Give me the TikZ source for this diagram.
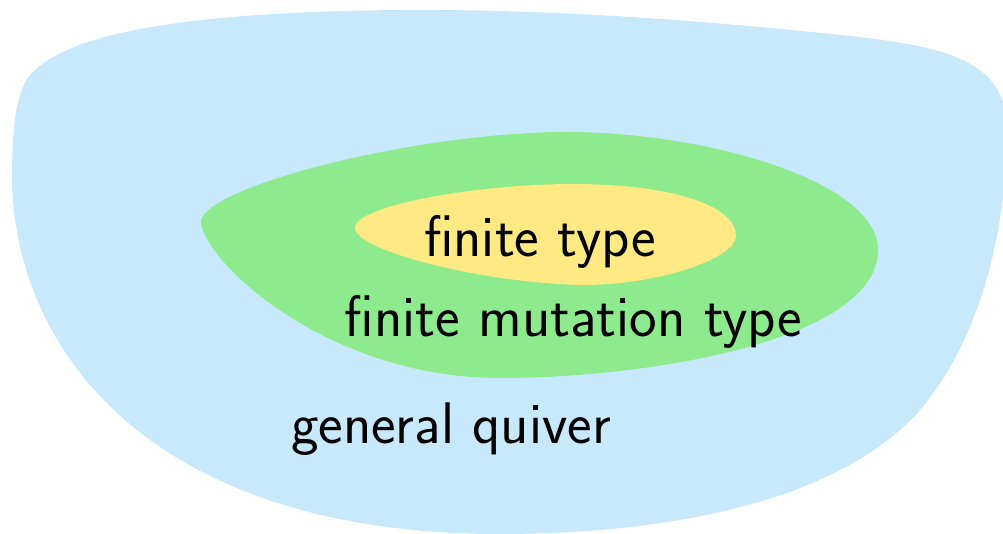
\documentclass[tikz,border=0pt]{standalone}
\usepackage{fontspec}
\definecolor{quiverblue}{RGB}{200,232,252}
\definecolor{mutgreen}{RGB}{141,235,141}
\definecolor{finyellow}{RGB}{254,233,130}
\tikzset{
  region/.style={draw=none},
  lbl/.style={inner sep=0pt, anchor=base, font=\sffamily\fontsize{58.6}{64}\selectfont}
}
\begin{document}
\begin{tikzpicture}[x=1pt,y=-1pt]
  \useasboundingbox (0,0) rectangle (1003,534);
  \clip (0,0) rectangle (1003,534);
  % outer region: all quivers
  \fill[quiverblue, region]
    (12,180) .. controls (15,350) and (150,534) .. (500,534)
    .. controls (700,534) and (850,490) .. (920,410)
    .. controls (975,345) and (1003,250) .. (1008,140)
    .. controls (1010,65) and (960,48) .. (850,36)
    .. controls (700,20) and (550,9) .. (400,10)
    .. controls (200,12) and (70,30) .. (30,75)
    .. controls (15,95) and (12,130) .. (12,180) -- cycle;
  % middle region: finite mutation type
  \fill[mutgreen, region]
    (201,223) .. controls (197,190) and (400,135) .. (557,132)
    .. controls (700,130) and (878,180) .. (878,250)
    .. controls (878,340) and (650,378) .. (500,378)
    .. controls (330,378) and (207,265) .. (201,223) -- cycle;
  % inner region: finite type
  \fill[finyellow, region]
    (355,228) .. controls (355,205) and (480,184) .. (573,184)
    .. controls (670,184) and (736,205) .. (736,236)
    .. controls (736,258) and (660,285) .. (583,285)
    .. controls (480,283) and (355,250) .. (355,228) -- cycle;
  \node[lbl] (ft)  at (540,257) {finite type};
  \node[lbl] (fmt) at (573.5,337) {finite mutation type};
  \node[lbl] (gq)  at (451,443) {general quiver};
\end{tikzpicture}
\end{document}
